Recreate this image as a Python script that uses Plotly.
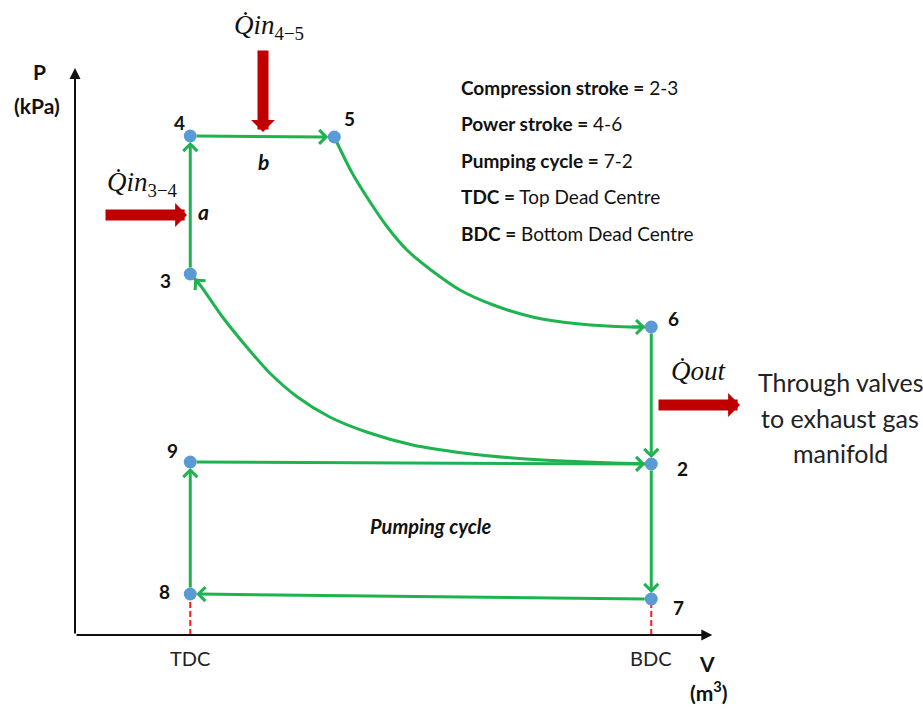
import plotly.graph_objects as go

# ---------------- data (V in arbitrary volume units, P in kPa) ----------------
state_labels = ["2", "3", "4", "5", "6", "7", "8", "9"]
state_V = [5.0, 1.0, 1.0, 2.25, 5.0, 5.0, 1.0, 1.0]
state_P = [1710, 3610, 4990, 4980, 3080, 360, 410, 1730]

# label offsets in pixels (dx, dy) relative to each state point
label_dx = [31, -25, -11, 15, 22, 27, -26, -18]
label_dy = [-4, -6, 14, 19, 9, -8, 3, 12]

# straight processes (from state -> to state)
straight_from = ["3", "4", "6", "2", "7", "8", "9"]
straight_to = ["4", "5", "2", "7", "8", "9", "2"]

# curved processes
expansion_V = [2.25, 2.40, 2.56, 2.71, 2.88, 3.10, 3.34, 3.63, 3.97, 4.38, 4.82, 5.0]
expansion_P = [4980, 4630, 4330, 4080, 3850, 3640, 3450, 3300, 3180, 3110, 3080, 3080]
compression_V = [5.0, 4.67, 4.23, 3.80, 3.37, 2.93, 2.53, 2.21, 1.93, 1.69, 1.49, 1.28, 1.085, 1.0]
compression_P = [1710, 1720, 1740, 1770, 1820, 1900, 2030, 2180, 2380, 2620, 2880, 3180, 3500, 3610]

tick_V = [1.0, 5.0]
tick_labels = ["TDC", "BDC"]

legend_bold = ["Compression stroke =", "Power stroke =", "Pumping cycle =", "TDC =", "BDC ="]
legend_rest = ["2-3", "4-6", "7-2", "Top Dead Centre", "Bottom Dead Centre"]

# ---------------- style ----------------
W, H = 923, 709
GREEN = "#1db34f"
BLUE = "#5b9bd5"
DARKRED = "#c00000"
FONT = "Lato"

V_MAX_AXIS = 5.53
P_MAX_AXIS = 5670

def paper(px, py):
    return px / W, 1 - py / H

pos = {lab: (v, p) for lab, v, p in zip(state_labels, state_V, state_P)}

fig = go.Figure()

# curves
fig.add_trace(go.Scatter(x=expansion_V, y=expansion_P, mode="lines",
                         line=dict(color=GREEN, width=3, shape="spline", smoothing=0.8),
                         hoverinfo="skip"))
fig.add_trace(go.Scatter(x=compression_V, y=compression_P, mode="lines",
                         line=dict(color=GREEN, width=3, shape="spline", smoothing=0.8),
                         hoverinfo="skip"))

# red dashed drop lines
for lab in ["8", "7"]:
    v, p = pos[lab]
    fig.add_trace(go.Scatter(x=[v, v], y=[0, p], mode="lines",
                             line=dict(color="#ff1a1a", width=2, dash="6px,3px"),
                             hoverinfo="skip"))

# state points
fig.add_trace(go.Scatter(x=state_V, y=state_P, mode="markers",
                         marker=dict(size=13, color=BLUE, line=dict(width=0)),
                         hoverinfo="skip"))

annotations = []

# axes with arrows
annotations.append(dict(x=V_MAX_AXIS, y=0, ax=0, ay=0, xref="x", yref="y", axref="x", ayref="y",
                        text="", showarrow=True, arrowhead=2, arrowsize=1.1, arrowwidth=2, arrowcolor="#111"))
annotations.append(dict(x=0, y=P_MAX_AXIS, ax=0, ay=0, xref="x", yref="y", axref="x", ayref="y",
                        text="", showarrow=True, arrowhead=2, arrowsize=1.1, arrowwidth=2, arrowcolor="#111"))

# straight process arrows
for a, b in zip(straight_from, straight_to):
    (v0, p0), (v1, p1) = pos[a], pos[b]
    annotations.append(dict(x=v1, y=p1, ax=v0, ay=p0, xref="x", yref="y", axref="x", ayref="y",
                            text="", showarrow=True, arrowhead=4, arrowsize=0.9, arrowwidth=3,
                            arrowcolor=GREEN, standoff=6, startstandoff=5))

# curve arrowheads
for cv, cp in [(expansion_V, expansion_P), (compression_V, compression_P)]:
    annotations.append(dict(x=cv[-1], y=cp[-1], ax=cv[-2], ay=cp[-2], xref="x", yref="y",
                            axref="x", ayref="y", text="", showarrow=True, arrowhead=4,
                            arrowsize=0.9, arrowwidth=3, arrowcolor=GREEN, standoff=6))

# point labels
for lab, v, p, dx, dy in zip(state_labels, state_V, state_P, label_dx, label_dy):
    annotations.append(dict(x=v, y=p, xref="x", yref="y", text=f"<b>{lab}</b>", showarrow=False,
                            xshift=dx, yshift=dy, font=dict(family=FONT, size=19, color="#111")))

# tick labels
for v, t in zip(tick_V, tick_labels):
    annotations.append(dict(x=v, y=0, xref="x", yref="y", text=t, showarrow=False, yshift=-23,
                            font=dict(family=FONT, size=20, color="#222")))

def text_at(px, py, text, size, bold=False, italic=False, family=FONT, xanchor="center", color="#111"):
    x, y = paper(px, py)
    if bold:
        text = f"<b>{text}</b>"
    if italic:
        text = f"<i>{text}</i>"
    annotations.append(dict(x=x, y=y, xref="paper", yref="paper", text=text, showarrow=False,
                            xanchor=xanchor, yanchor="middle", font=dict(family=family, size=size, color=color)))

# axis titles
text_at(39, 72, "P", 21, bold=True)
text_at(37, 106, "(kPa)", 21, bold=True)
text_at(707, 663, "V", 21, bold=True)
text_at(709, 691, "(m<sup>3</sup>)", 21, bold=True)

# process letters
text_at(203, 211, "a", 21, bold=True, italic=True)
text_at(263, 162, "b", 21, bold=True, italic=True)
text_at(431, 526, "Pumping cycle", 20, bold=True, italic=True)

# heat transfer labels
SERIF = "Liberation Serif"
text_at(269, 27, "<i>Q̇in</i><sub>4−5</sub>", 27, family=SERIF)
text_at(142, 184, "<i>Q̇in</i><sub>3−4</sub>", 27, family=SERIF)
text_at(698, 371, "<i>Q̇out</i>", 27, family=SERIF)

# exhaust text
text_at(840, 382, "Through valves", 25, color="#222")
text_at(840, 418, "to exhaust gas", 25, color="#222")
text_at(840, 453, "manifold", 25, color="#222")

# legend block
for i, (bt, rt) in enumerate(zip(legend_bold, legend_rest)):
    text_at(459, 87 + 36.6 * i, f"<b>{bt}</b> {rt}", 19, xanchor="left", color="#111")

# red block arrows (heat flows)
def red_arrow(hx, hy, tx, ty):
    x, y = paper(hx, hy)
    annotations.append(dict(x=x, y=y, xref="paper", yref="paper", ax=tx - hx, ay=ty - hy,
                            text="", showarrow=True, arrowhead=1, arrowsize=0.36, arrowwidth=11,
                            arrowcolor=DARKRED))

red_arrow(187, 215, 104, 215)
red_arrow(263, 132, 263, 49)
red_arrow(740, 405, 657, 405)

fig.update_layout(
    width=W, height=H, margin=dict(l=0, r=0, t=0, b=0),
    paper_bgcolor="white", plot_bgcolor="white", showlegend=False,
    xaxis=dict(range=[-75 / 115.25, (W - 75) / 115.25], visible=False, fixedrange=True),
    yaxis=dict(range=[-(H - 635) * 10, 635 * 10], visible=False, fixedrange=True),
    annotations=annotations,
)

fig.write_html("out.html", config={"displayModeBar": False},
               post_script="document.body.style.margin='0px';")
